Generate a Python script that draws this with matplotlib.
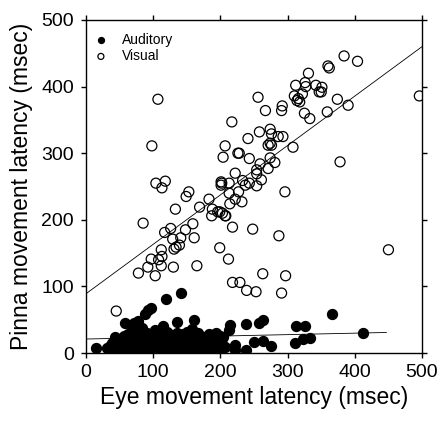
import matplotlib
matplotlib.use("Agg")
import matplotlib.pyplot as plt
import numpy as np

plt.rcParams['font.family'] = ['Liberation Sans', 'DejaVu Sans']

# Visual (open circles)
vis_x = [107, 98, 104, 118, 113, 207, 204, 217, 226, 222,
         384, 404, 360, 362, 331, 312, 326, 327, 342, 351, 347, 350, 322, 310, 314, 318, 316, 256, 374, 390,
         292, 291, 267, 359, 325, 333, 241, 258, 274, 276, 286, 293, 271, 276, 274, 308, 228, 243, 274, 378,
         496, 450,
         259, 281, 271, 254, 254, 202, 213, 233, 237, 243, 261, 254, 296, 213, 227, 222, 232, 214, 199, 207,
         208, 218, 248, 287, 199, 212, 263, 297, 218, 229, 239, 253, 291,
         149, 153, 133, 183, 201, 201, 169, 188, 196, 187, 203, 85, 159, 126, 117, 148, 141, 161, 129, 139,
         134, 131, 112, 113, 97, 108, 92, 112, 130, 165, 78, 103, 45]
vis_y = [381, 311, 255, 258, 248, 311, 294, 347, 300, 270,
         446, 438, 431, 428, 420, 402, 406, 400, 402, 399, 392, 392, 389, 386, 379, 377, 382, 384, 381, 372,
         371, 364, 364, 362, 360, 352, 322, 332, 336, 329, 325, 325, 312, 312, 315, 309, 300, 292, 293, 287,
         386, 155,
         284, 286, 277, 275, 269, 255, 255, 259, 252, 255, 260, 251, 242, 240, 242, 231, 227, 224, 212, 206,
         206, 189, 186, 176, 158, 141, 119, 116, 106, 106, 94, 92, 90,
         235, 242, 216, 231, 257, 252, 219, 216, 212, 206, 210, 195, 194, 187, 181, 185, 173, 173, 171, 162,
         159, 156, 155, 145, 141, 140, 129, 131, 129, 131, 120, 116, 63]

# Auditory (filled circles)
aud_x = [15, 31, 43, 58, 72, 77, 88, 92, 96, 119, 142, 135, 160, 114, 157, 215, 213, 204, 202, 207,
         222, 222, 238, 238, 250, 263, 258, 264, 276, 311, 313, 326, 323, 334, 366, 412,
         35, 38, 40, 42, 45, 47, 48, 50, 52, 53, 55, 56, 58, 60, 60, 62, 63, 65, 66, 68, 68, 70, 70, 72,
         73, 75, 76, 78, 79, 80, 82, 83, 85, 86, 88, 88, 90, 91, 93, 94, 96, 97, 99, 100, 101, 103, 104,
         106, 107, 109, 110, 112, 113, 115, 116, 118, 120, 121, 123, 125, 126, 128, 130, 131, 133, 135,
         136, 138, 140, 142, 144, 145, 147, 149, 150, 152, 154, 156, 158, 160, 162, 165, 167, 169, 172,
         174, 176, 178, 181, 183, 186, 188, 190, 193, 195, 197, 199, 200]
aud_y = [7, 7, 24, 45, 45, 48, 59, 64, 67, 81, 90, 47, 50, 40, 36, 42, 35, 24, 14, 9,
         12, 5, 5, 43, 17, 18, 45, 50, 11, 15, 40, 40, 21, 22, 59, 30,
         10, 15, 5, 12, 8, 18, 3, 12, 20, 6, 15, 25, 10, 4, 18, 28, 12, 7, 22, 15, 35, 3, 10, 25,
         18, 8, 30, 14, 22, 5, 17, 38, 10, 26, 4, 18, 13, 30, 8, 22, 15, 3, 26, 10, 18, 34, 6,
         14, 24, 3, 18, 10, 28, 5, 20, 14, 32, 8, 22, 2, 15, 27, 9, 20, 4, 30,
         14, 22, 8, 17, 28, 3, 12, 22, 32, 8, 17, 26, 5, 14, 22, 8, 30, 15, 4,
         24, 12, 20, 6, 28, 15, 22, 9, 30, 18, 3, 12, 25]

# Regression lines: x-range, intercept, slope
vis_fit_x = [0, 500]
vis_fit_b, vis_fit_m = 89, 0.742
aud_fit_x = [0, 447]
aud_fit_b, aud_fit_m = 21, 0.022

ticks = [0, 100, 200, 300, 400, 500]

fig = plt.figure(figsize=(4.41, 4.21), dpi=100)
ax = fig.add_axes([0.195, 0.1615, 0.762, 0.791])

ax.scatter(aud_x, aud_y, s=52, facecolor='black', edgecolor='black', linewidth=0.9,
           label='Auditory', zorder=3)
ax.scatter(vis_x, vis_y, s=52, facecolor='none', edgecolor='black', linewidth=0.9,
           label='Visual', zorder=3)

fx = np.array(vis_fit_x)
ax.plot(fx, vis_fit_b + vis_fit_m * fx, color='black', linewidth=0.6, zorder=2)
fx = np.array(aud_fit_x)
ax.plot(fx, aud_fit_b + aud_fit_m * fx, color='black', linewidth=0.6, zorder=2)

ax.set_xlim(0, 500)
ax.set_ylim(0, 500)
ax.set_xticks(ticks)
ax.set_yticks(ticks)
ax.tick_params(direction='out', length=3.8, width=1, labelsize=14, top=True, right=True,
               labeltop=False, labelright=False)
ax.tick_params(axis='x', pad=4)
ax.tick_params(axis='y', pad=5)
for s in ax.spines.values():
    s.set_linewidth(1)

ax.set_xlabel('Eye movement latency (msec)', fontsize=16.5, labelpad=4)
ax.set_ylabel('Pinna movement latency (msec)', fontsize=16.5, labelpad=6)

leg = ax.legend(loc='upper left', frameon=False, fontsize=10, handletextpad=0.5,
                handlelength=2.0, borderpad=0, borderaxespad=0, labelspacing=0.15,
                markerscale=0.6, bbox_to_anchor=(0.003, 0.961))

fig.savefig('out.png', dpi=100)
